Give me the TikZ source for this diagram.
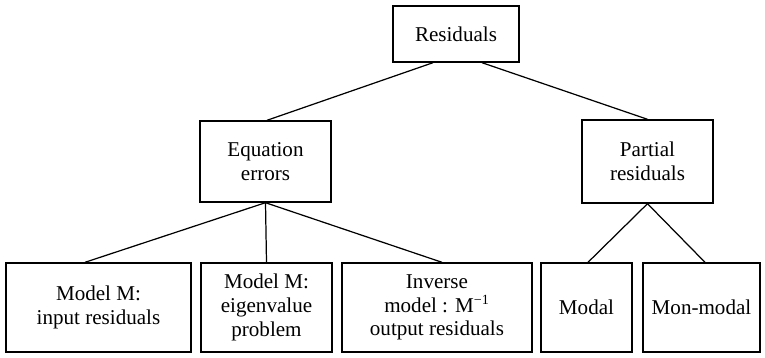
\documentclass[tikz,border=0pt]{standalone}
\usepackage{fontspec}
\setmainfont{Liberation Serif}
\usepackage{tikz}

\begin{document}
\begin{tikzpicture}[x=0.02cm, y=-0.02cm,
                    box/.style={draw, line width=0.8pt, align=center, inner sep=0pt,
                                font=\fontsize{12}{13.5}\selectfont},
                    link/.style={line width=0.7pt}]
                      \useasboundingbox (0, 0) rectangle (765, 358);

                      \node[box, minimum width=2.52cm, minimum height=1.12cm] (res) at (456, 34) {Residuals};

                      \node[box, minimum width=2.62cm, minimum height=1.62cm] (eq) at (265.5, 161.5) {Equation\\errors};
                      \node[box, minimum width=2.62cm, minimum height=1.66cm] (par) at (647.5, 161.5) {Partial\\residuals};

                      \node[box, minimum width=3.7cm, minimum height=1.78cm] (inres) at (98.5, 307.5) {Model M:\\input residuals};
                      \node[box, minimum width=2.62cm, minimum height=1.78cm] (eigen) at (266.5, 307.5) {Model M:\\eigenvalue\\problem};
                      \node[box, minimum width=3.8cm, minimum height=1.78cm] (outres) at (437, 307.5) {Inverse\\model : M\textsuperscript{−1}\\output residuals};
                      \node[box, minimum width=1.82cm, minimum height=1.78cm] (modal) at (586.5, 307.5) {Modal};
                      \node[box, minimum width=2.34cm, minimum height=1.78cm] (nonmodal) at (701.5, 307.5) {Mon-modal};

                      \draw[link] ([xshift=-0.46cm]res.south) -- ([xshift=0.03cm]eq.north);
                      \draw[link] ([xshift=0.52cm]res.south) -- (par.north);

                      \draw[link] (eq.south) -- ([xshift=-0.27cm]inres.north);
                      \draw[link] (eq.south) -- (eigen.north);
                      \draw[link] (eq.south) -- ([xshift=0.1cm]outres.north);

                      \draw[link] (par.south) -- ([xshift=0.03cm]modal.north);
                      \draw[link] (par.south) -- ([xshift=0.07cm]nonmodal.north);
                  \end{tikzpicture}
\end{document}
